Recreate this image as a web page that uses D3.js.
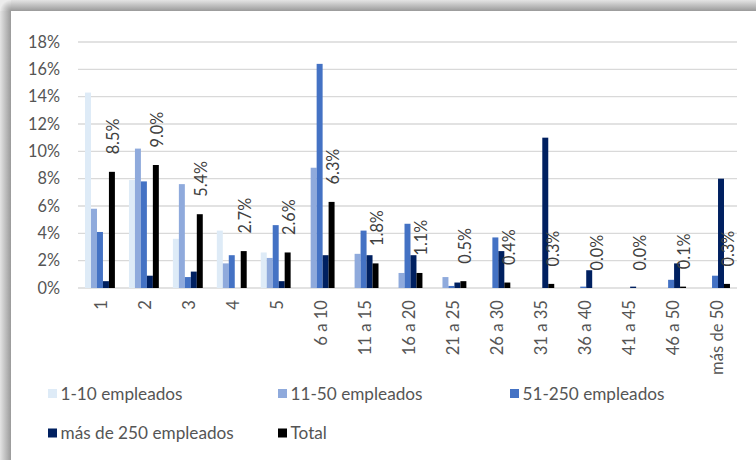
<!DOCTYPE html>
<html>
<head>
<meta charset="utf-8">
<script src="https://cdn.jsdelivr.net/npm/d3@7"></script>
<style>
  html, body { margin: 0; padding: 0; background: #ffffff; }
  svg { display: block; }
  text { font-family: Lato, "Open Sans", sans-serif; }
</style>
</head>
<body>
<svg id="chart" width="756" height="460"></svg>
<script>
// ---- Data (percent values) ----
const categories = ["1","2","3","4","5","6 a 10","11 a 15","16 a 20","21 a 25","26 a 30","31 a 35","36 a 40","41 a 45","46 a 50","más de 50"];
const seriesNames = ["1-10 empleados","11-50 empleados","51-250 empleados","más de 250 empleados","Total"];
const emp1_10   = [14.3, 7.9, 3.6, 4.2, 2.6, 0, 0, 0, 0, 0, 0, 0, 0, 0, 0];
const emp11_50  = [5.8, 10.2, 7.6, 1.8, 2.2, 8.8, 2.5, 1.1, 0.8, 0, 0, 0, 0, 0, 0];
const emp51_250 = [4.1, 7.8, 0.8, 2.4, 4.6, 16.4, 4.2, 4.7, 0.15, 3.7, 0, 0.1, 0, 0.6, 0.9];
const emp250    = [0.5, 0.9, 1.2, 0, 0.5, 2.4, 2.4, 2.4, 0.4, 2.7, 11.0, 1.3, 0.1, 1.8, 8.0];
const total     = [8.5, 9.0, 5.4, 2.7, 2.6, 6.3, 1.8, 1.1, 0.5, 0.4, 0.3, 0.0, 0.0, 0.1, 0.3];
const yTicks = [0, 2, 4, 6, 8, 10, 12, 14, 16, 18];
const colors = ["#DEEBF7", "#8FAADC", "#4472C4", "#002060", "#000000"];

const seriesValues = [emp1_10, emp11_50, emp51_250, emp250, total];

const svg = d3.select("#chart");
const W = 756, H = 460;

// ---- Frame shadow (top and left) ----
const defs = svg.append("defs");
const lg = defs.append("linearGradient").attr("id", "shL").attr("x1", 0).attr("x2", 1).attr("y1", 0).attr("y2", 0);
lg.append("stop").attr("offset", "0%").attr("stop-color", "#e4e4e4");
lg.append("stop").attr("offset", "100%").attr("stop-color", "#9a9a9a");
const tg = defs.append("linearGradient").attr("id", "shT").attr("x1", 0).attr("x2", 0).attr("y1", 0).attr("y2", 1);
tg.append("stop").attr("offset", "0%").attr("stop-color", "#e4e4e4");
tg.append("stop").attr("offset", "100%").attr("stop-color", "#9a9a9a");
const rg = defs.append("radialGradient").attr("id", "shC").attr("cx", 1).attr("cy", 1).attr("r", 1);
rg.append("stop").attr("offset", "0%").attr("stop-color", "#9a9a9a");
rg.append("stop").attr("offset", "100%").attr("stop-color", "#ececec");

svg.append("rect").attr("x", 0).attr("y", 11).attr("width", 11).attr("height", H - 11).attr("fill", "url(#shL)");
svg.append("rect").attr("x", 11).attr("y", 0).attr("width", W - 11).attr("height", 11).attr("fill", "url(#shT)");
svg.append("rect").attr("x", 0).attr("y", 0).attr("width", 11).attr("height", 11).attr("fill", "url(#shC)");
svg.append("rect").attr("x", 11).attr("y", 11).attr("width", W - 11).attr("height", H - 11).attr("fill", "#ffffff");

// ---- Scales ----
const plotLeft = 78, plotRight = 737, plotTop = 42, plotBottom = 288;
const x0 = d3.scaleBand().domain(categories).range([plotLeft, plotRight]).paddingInner(0.32).paddingOuter(0.16);
const x1 = d3.scaleBand().domain(seriesNames).range([0, x0.bandwidth()]);
const y = d3.scaleLinear().domain([0, 18]).range([plotBottom, plotTop]);

// ---- Gridlines ----
svg.append("g").selectAll("line").data(yTicks).join("line")
  .attr("x1", plotLeft).attr("x2", plotRight)
  .attr("y1", d => y(d)).attr("y2", d => y(d))
  .attr("stroke", "#d9d9d9").attr("stroke-width", 1.4);

// ---- Y axis labels ----
const yAxis = d3.axisLeft(y).tickValues(yTicks).tickFormat(d => d + "%").tickSize(0).tickPadding(0);
const gy = svg.append("g").attr("transform", `translate(${plotLeft - 18},0)`).call(yAxis);
gy.select(".domain").remove();
gy.selectAll("text").attr("font-family", "Lato, sans-serif").attr("font-size", 16.3).attr("fill", "#555555");

// ---- Bars ----
const groups = svg.append("g").selectAll("g").data(categories).join("g")
  .attr("transform", d => `translate(${x0(d)},0)`);
groups.selectAll("rect")
  .data((c, i) => seriesNames.map((s, k) => ({ s, k, v: seriesValues[k][i] })))
  .join("rect")
  .attr("x", d => x1(d.s))
  .attr("width", x1.bandwidth())
  .attr("y", d => y(d.v))
  .attr("height", d => y(0) - y(d.v))
  .attr("fill", d => colors[d.k]);

// ---- X axis labels (rotated) ----
const xAxis = d3.axisBottom(x0).tickSize(0).tickPadding(0);
const gx = svg.append("g").call(xAxis);
gx.select(".domain").remove();
gx.selectAll(".tick").attr("transform", d => `translate(${x0(d) + x0.bandwidth() / 2 + 1.7},300)`);
gx.selectAll("text")
  .attr("transform", "rotate(-90)")
  .attr("x", 0).attr("y", 0).attr("dy", "0.35em")
  .attr("text-anchor", "end")
  .attr("font-family", "Lato, sans-serif").attr("font-size", 16.6).attr("fill", "#555555");

// ---- Data labels for Total ----
svg.append("g").selectAll("text").data(categories).join("text")
  .attr("transform", (c, i) => `translate(${x0(c) + x1("Total") + x1.bandwidth() / 2 + 1.6},${y(total[i]) - 17.5}) rotate(-90)`)
  .attr("dy", "0.35em")
  .attr("text-anchor", "start")
  .attr("font-size", 16.3)
  .attr("fill", "#404040")
  .text((c, i) => total[i].toFixed(1) + "%");

// ---- Legend ----
const legendPos = [[48, 393.5], [278, 393.5], [510, 393.5], [48, 433], [278, 433]];
const lgG = svg.append("g").selectAll("g").data(seriesNames).join("g")
  .attr("transform", (d, i) => `translate(${legendPos[i][0]},${legendPos[i][1]})`);
lgG.append("rect").attr("x", 0).attr("y", -4.5).attr("width", 9).attr("height", 9)
  .attr("fill", (d, i) => colors[i]);
lgG.append("text").attr("x", 12.5).attr("y", 0).attr("dy", "0.35em")
  .attr("font-size", 17.2).attr("fill", "#555555").text(d => d);
</script>
</body>
</html>
